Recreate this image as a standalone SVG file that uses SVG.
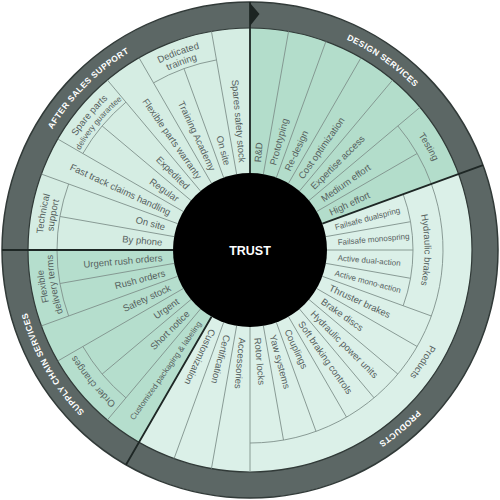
<svg xmlns="http://www.w3.org/2000/svg" xmlns:xlink="http://www.w3.org/1999/xlink" width="500" height="500" viewBox="0 0 500 500">
<defs>
<style>
.t{font-family:"Liberation Sans",Arial,sans-serif;font-size:9.5px;fill:#56615e}
.s{font-size:8px}
.rl{font-family:"Liberation Sans",Arial,sans-serif;font-weight:bold;font-size:8.5px;fill:#ffffff;letter-spacing:0.4px}
.thin{stroke:#7f918b;stroke-width:0.9;fill:none}
.thick{stroke:#1e2725;stroke-width:1.8;fill:none}
</style>
<path id="a203" d="M73.76,148.25 A203.5,203.5 0 0 1 426.24,148.25"/>
<path id="a174" d="M98.88,162.75 A174.5,174.5 0 0 1 401.12,162.75"/>
<path id="a208" d="M70.13,146.00 A208,208 0 0 1 429.87,146.00"/>
<path id="a197" d="M79.40,151.25 A197,197 0 0 1 420.60,151.25"/>
<path id="a231" d="M49.51,134.25 A231.5,231.5 0 0 1 450.49,134.25"/>
</defs>

<g id="ring">
<circle cx="250" cy="250" r="248" fill="#5c6765" stroke="#313a38" stroke-width="1.5"/>
</g>

<g id="design-services">
<path d="M250,250 L250,28 A222,222 0 0 1 458.61,174.07 Z" fill="#b3ddcb"/>
</g>
<g id="products">
<path d="M250,250 L458.61,174.07 A222,222 0 0 1 139,442.26 Z" fill="#dbf0e8"/>
</g>
<g id="supply-chain-services">
<path d="M250,250 L139,442.26 A222,222 0 0 1 28,250 Z" fill="#b5decd"/>
</g>
<g id="after-sales-support">
<path d="M250,250 L28,250 A222,222 0 0 1 250,28 Z" fill="#d5ede3"/>
</g>

<g id="connectors">
<circle cx="250" cy="250" r="222" fill="none" stroke="#313a38" stroke-width="1.2"/>
<!-- design -->
<path class="thin" d="M263.37,174.17L288.55,31.37M276.34,177.64L325.93,41.39M288.5,183.32L361,57.74M299.49,191.01L392.70,79.94M308.99,200.51L420.06,107.30M316.68,211.5L417.14,153.5"/>
<path class="thin" d="M397.85,125.94 A193,193 0 0 1 431.36,183.99"/>
<!-- products -->
<path class="thin" d="M325.83,236.63L410.52,221.70M327,250L413,250M325.83,263.37L410.52,278.30M322.36,276.34L431.36,316.01M316.68,288.5L417.14,346.5M308.99,299.49L397.85,374.06M299.49,308.99L374.06,397.85M288.5,316.68L346.5,417.14M276.34,322.36L316.01,431.36M263.37,325.83L283.51,440.07M250,327L250,472M236.63,325.83L211.45,468.63M223.66,322.36L174.07,458.61"/>
<path class="thin" d="M403.17,194.25 A163,163 0 0 1 403.17,305.75"/>
<path class="thin" d="M431.36,183.99 A193,193 0 0 1 250,443"/>
<!-- supply chain -->
<path class="thin" d="M200.51,308.99L107.30,420.06M191.01,299.49L102.15,374.06M183.32,288.5L57.74,361M177.64,276.34L41.39,325.93M174.17,263.37L59.93,283.51"/>
<path class="thin" d="M125.94,397.85 A193,193 0 0 1 82.86,346.5"/>
<path class="thin" d="M68.64,316.01 A193,193 0 0 1 57,250"/>
<!-- after sales -->
<path class="thin" d="M174.17,236.63L59.93,216.49M177.64,223.66L41.39,174.07M183.32,211.5L57.74,139M191.01,200.51L102.15,125.94M200.51,191.01L107.30,79.94M211.5,183.32L139,57.74M223.66,177.64L183.99,68.64M236.63,174.17L211.45,31.37"/>
<path class="thin" d="M57,250 A193,193 0 0 1 68.64,183.99"/>
<path class="thin" d="M82.86,153.5 A193,193 0 0 1 125.94,102.15"/>
<path class="thin" d="M153.5,82.86 A193,193 0 0 1 216.49,59.93"/>
<!-- section dividers -->
<path class="thick" d="M250,173L250,2M322.36,223.66L483.04,165.18M211.5,316.68L126,464.78M173,250L2,250"/>
<polygon points="250,3 259.5,14 250,26" fill="#1c2422"/>
</g>

<g id="center">
<circle cx="250" cy="250" r="77" fill="#000000"/>
<text x="250" y="254.5" text-anchor="middle" font-family="Liberation Sans, Arial, sans-serif" font-weight="bold" font-size="12.5" fill="#ffffff">TRUST</text>
</g>

<g id="design-labels" class="t">
<text x="338" y="250" dy="0.35em" transform="rotate(-85 250 250)">R&amp;D</text>
<text x="338" y="250" dy="0.35em" transform="rotate(-75 250 250)">Prototyping</text>
<text x="338" y="250" dy="0.35em" transform="rotate(-65 250 250)">Re-design</text>
<text x="338" y="250" dy="0.35em" transform="rotate(-55 250 250)">Cost optimization</text>
<text x="338" y="250" dy="0.35em" transform="rotate(-45 250 250)">Expertise access</text>
<text x="338" y="250" dy="0.35em" transform="rotate(-35 250 250)">Medium effort</text>
<text x="338" y="250" dy="0.35em" transform="rotate(-25 250 250)">High effort</text>
<g transform="rotate(60 250 250)"><text><textPath xlink:href="#a203" href="#a203" startOffset="50%" text-anchor="middle">Testing</textPath></text></g>
</g>

<g id="products-labels" class="t">
<text class="s" x="338" y="250" dy="0.35em" transform="rotate(-15 250 250)">Failsafe dualspring</text>
<text class="s" x="338" y="250" dy="0.35em" transform="rotate(-5 250 250)">Failsafe monospring</text>
<text class="s" x="338" y="250" dy="0.35em" transform="rotate(5 250 250)">Active dual-action</text>
<text class="s" x="338" y="250" dy="0.35em" transform="rotate(15 250 250)">Active mono-action</text>
<text x="338" y="250" dy="0.35em" transform="rotate(25 250 250)">Thruster brakes</text>
<text x="338" y="250" dy="0.35em" transform="rotate(35 250 250)">Brake discs</text>
<text x="338" y="250" dy="0.35em" transform="rotate(45 250 250)">Hydraulic power units</text>
<text x="338" y="250" dy="0.35em" transform="rotate(55 250 250)">Soft braking controls</text>
<text x="338" y="250" dy="0.35em" transform="rotate(65 250 250)">Couplings</text>
<text x="338" y="250" dy="0.35em" transform="rotate(75 250 250)">Yaw systems</text>
<text x="338" y="250" dy="0.35em" transform="rotate(85 250 250)">Rotor locks</text>
<text x="338" y="250" dy="0.35em" transform="rotate(95 250 250)">Accessories</text>
<text x="338" y="250" dy="0.35em" transform="rotate(105 250 250)">Certification</text>
<text x="338" y="250" dy="0.35em" transform="rotate(115 250 250)">Customization</text>
<g transform="rotate(90 250 250)"><text><textPath xlink:href="#a174" href="#a174" startOffset="50%" text-anchor="middle">Hydraulic brakes</textPath></text></g>
<g transform="rotate(123 250 250)"><text><textPath xlink:href="#a203" href="#a203" startOffset="50%" text-anchor="middle">Products</textPath></text></g>
</g>

<g id="supply-labels" class="t">
<text class="s" x="162" y="250" dy="0.35em" text-anchor="end" transform="rotate(305 250 250)">Customized packaging &amp; labeling</text>
<text x="162" y="250" dy="0.35em" text-anchor="end" transform="rotate(315 250 250)">Short notice</text>
<text x="162" y="250" dy="0.35em" text-anchor="end" transform="rotate(325 250 250)">Urgent</text>
<text x="162" y="250" dy="0.35em" text-anchor="end" transform="rotate(335 250 250)">Safety stock</text>
<text x="162" y="250" dy="0.35em" text-anchor="end" transform="rotate(345 250 250)">Rush orders</text>
<text x="162" y="250" dy="0.35em" text-anchor="end" transform="rotate(355 250 250)">Urgent rush orders</text>
<g transform="rotate(230 250 250)"><text><textPath xlink:href="#a203" href="#a203" startOffset="50%" text-anchor="middle">Order changes</textPath></text></g>
<g transform="rotate(260 250 250)"><text><textPath xlink:href="#a208" href="#a208" startOffset="50%" text-anchor="middle">Flexible</textPath></text><text><textPath xlink:href="#a197" href="#a197" startOffset="50%" text-anchor="middle">delivery terms</textPath></text></g>
</g>

<g id="after-sales-labels" class="t">
<text x="162" y="250" dy="0.35em" text-anchor="end" transform="rotate(365 250 250)">By phone</text>
<text x="162" y="250" dy="0.35em" text-anchor="end" transform="rotate(375 250 250)">On site</text>
<text x="162" y="250" dy="0.35em" text-anchor="end" transform="rotate(385 250 250)">Fast track claims handling</text>
<text x="162" y="250" dy="0.35em" text-anchor="end" transform="rotate(395 250 250)">Regular</text>
<text x="162" y="250" dy="0.35em" text-anchor="end" transform="rotate(405 250 250)">Expedited</text>
<text x="162" y="250" dy="0.35em" text-anchor="end" transform="rotate(415 250 250)">Flexible parts warranty</text>
<text x="162" y="250" dy="0.35em" text-anchor="end" transform="rotate(425 250 250)">Training Academy</text>
<text x="162" y="250" dy="0.35em" text-anchor="end" transform="rotate(435 250 250)">On site</text>
<text x="162" y="250" dy="0.35em" text-anchor="end" transform="rotate(445 250 250)">Spares safety stock</text>
<g transform="rotate(280 250 250)"><text><textPath xlink:href="#a208" href="#a208" startOffset="50%" text-anchor="middle">Technical</textPath></text><text><textPath xlink:href="#a197" href="#a197" startOffset="50%" text-anchor="middle">support</textPath></text></g>
<g transform="rotate(310 250 250)"><text><textPath xlink:href="#a208" href="#a208" startOffset="50%" text-anchor="middle">Spare parts</textPath></text><text class="s"><textPath xlink:href="#a197" href="#a197" startOffset="50%" text-anchor="middle">delivery guarantee</textPath></text></g>
<g transform="rotate(340 250 250)"><text><textPath xlink:href="#a208" href="#a208" startOffset="50%" text-anchor="middle">Dedicated</textPath></text><text><textPath xlink:href="#a197" href="#a197" startOffset="50%" text-anchor="middle">training</textPath></text></g>
</g>

<g id="ring-labels" class="rl">
<g transform="rotate(35 250 250)"><text><textPath xlink:href="#a231" href="#a231" startOffset="50%" text-anchor="middle">DESIGN SERVICES</textPath></text></g>
<g transform="rotate(140 250 250)"><text><textPath xlink:href="#a231" href="#a231" startOffset="50%" text-anchor="middle">PRODUCTS</textPath></text></g>
<g transform="rotate(240 250 250)"><text><textPath xlink:href="#a231" href="#a231" startOffset="50%" text-anchor="middle">SUPPLY CHAIN SERVICES</textPath></text></g>
<g transform="rotate(315 250 250)"><text><textPath xlink:href="#a231" href="#a231" startOffset="50%" text-anchor="middle">AFTER SALES SUPPORT</textPath></text></g>
</g>
</svg>
